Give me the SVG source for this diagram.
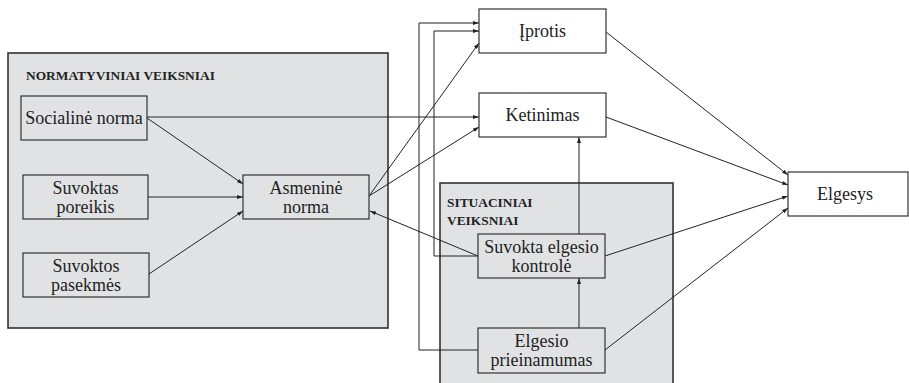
<svg xmlns="http://www.w3.org/2000/svg" width="909" height="383" viewBox="0 0 909 383">
  <defs>
    <marker id="arr" viewBox="0 0 6 4" refX="6" refY="2" markerWidth="6" markerHeight="4" markerUnits="userSpaceOnUse" orient="auto">
      <path d="M0,0 L6,2 L0,4 Z" fill="#222"/>
    </marker>
    <style>
      .grp { fill: #e1e2e4; stroke: #333; stroke-width: 1.6; }
      .box { fill: none; stroke: #333; stroke-width: 1.2; }
      .wbox { fill: #fff; stroke: #333; stroke-width: 1.2; }
      .lbl { font-family: "Liberation Serif", "Times New Roman", serif; font-size: 18px; fill: #222; text-anchor: middle; }
      .ttl { font-family: "Liberation Serif", "Times New Roman", serif; font-size: 13.4px; font-weight: bold; fill: #222; }
      .con path, .con line { fill: none; stroke: #222; stroke-width: 1; marker-end: url(#arr); }
    </style>
  </defs>

  <rect width="909" height="383" fill="#fff"/>

  <!-- factor groups -->
  <g id="normatyviniai">
    <rect class="grp" x="8" y="53" width="380" height="275"/>
    <text class="ttl" x="26" y="80">NORMATYVINIAI VEIKSNIAI</text>
  </g>
  <g id="situaciniai">
    <rect class="grp" x="440" y="183" width="233" height="215"/>
    <text class="ttl" x="447" y="207">SITUACINIAI</text>
    <text class="ttl" x="447" y="225">VEIKSNIAI</text>
  </g>

  <!-- connectors -->
  <g id="connectors" class="con">
    <line x1="147" y1="117" x2="479" y2="117"/>
    <line x1="147" y1="118" x2="243" y2="184"/>
    <line x1="148" y1="197" x2="243" y2="197"/>
    <line x1="149" y1="274" x2="243" y2="211"/>
    <line x1="369" y1="196" x2="479" y2="43"/>
    <line x1="369" y1="196" x2="479" y2="127"/>
    <line x1="478" y1="256" x2="370" y2="211"/>
    <path d="M478,256 H434 V31 H479"/>
    <path d="M478,350 H419 V23 H479"/>
    <line x1="579" y1="234" x2="579" y2="137"/>
    <line x1="579" y1="328" x2="579" y2="278"/>
    <line x1="606" y1="32" x2="788" y2="175"/>
    <line x1="606" y1="117" x2="788" y2="185"/>
    <line x1="605" y1="256" x2="788" y2="196"/>
    <line x1="605" y1="350" x2="788" y2="208"/>
  </g>

  <!-- nodes -->
  <g id="socialine-norma">
    <rect class="box" x="21" y="96" width="126" height="44"/>
    <text class="lbl" x="84" y="124">Socialinė norma</text>
  </g>
  <g id="suvoktas-poreikis">
    <rect class="box" x="23" y="175" width="125" height="44"/>
    <text class="lbl" x="85.5" y="193.5">Suvoktas</text>
    <text class="lbl" x="85.5" y="212.5">poreikis</text>
  </g>
  <g id="suvoktos-pasekmes">
    <rect class="box" x="23" y="253" width="126" height="44"/>
    <text class="lbl" x="86" y="271.5">Suvoktos</text>
    <text class="lbl" x="86" y="290.5">pasekmės</text>
  </g>
  <g id="asmenine-norma">
    <rect class="box" x="243" y="175" width="126" height="44"/>
    <text class="lbl" x="306" y="193.5">Asmeninė</text>
    <text class="lbl" x="306" y="212.5">norma</text>
  </g>
  <g id="iprotis">
    <rect class="wbox" x="479" y="9" width="127" height="44"/>
    <text class="lbl" x="542.5" y="37">Įprotis</text>
  </g>
  <g id="ketinimas">
    <rect class="wbox" x="479" y="93" width="127" height="44"/>
    <text class="lbl" x="542.5" y="121">Ketinimas</text>
  </g>
  <g id="suvokta-kontrole">
    <rect class="box" x="478" y="234" width="127" height="44"/>
    <text class="lbl" x="541.5" y="252.5">Suvokta elgesio</text>
    <text class="lbl" x="541.5" y="271.5">kontrolė</text>
  </g>
  <g id="elgesio-prieinamumas">
    <rect class="box" x="478" y="328" width="127" height="45"/>
    <text class="lbl" x="541.5" y="347">Elgesio</text>
    <text class="lbl" x="541.5" y="366">prieinamumas</text>
  </g>
  <g id="elgesys">
    <rect class="wbox" x="788" y="172" width="120" height="44"/>
    <text class="lbl" x="845" y="200">Elgesys</text>
  </g>
</svg>
